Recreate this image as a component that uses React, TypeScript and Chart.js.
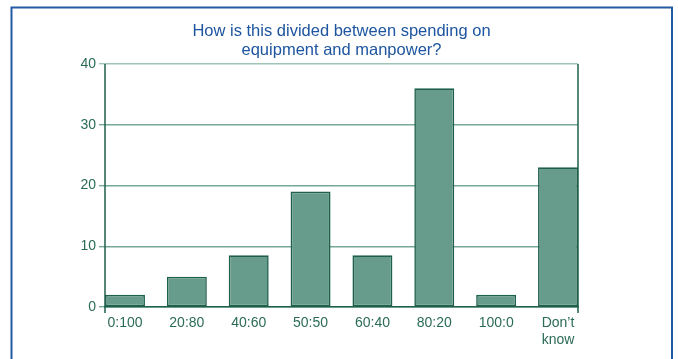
import { useEffect, useRef } from "react";
import { Chart, registerables } from "chart.js";

Chart.register(...registerables);

// Split between equipment and manpower spending (share of respondents)
const categories = ["0:100", "20:80", "40:60", "50:50", "60:40", "80:20", "100:0", "Don’t know"];
const shares = [2, 5, 8.5, 19, 8.5, 36, 2, 23];
const yTicks = [0, 10, 20, 30, 40];
const titleLines = ["How is this divided between spending on", "equipment and manpower?"];

const FONT = "'Liberation Sans', Arial, Helvetica, sans-serif";
const TEXT_GREEN = "#2a6b56";
const AXIS_GREEN = "#1f604c";
const GRID_GREEN = "#78a998";
const GRID_TOP = "#9fc5b8";
const BAR_FILL = "#679c8c";
const TITLE_BLUE = "#1d55a0";
const FRAME_BLUE = "#2459a3";

const BAR_FRACTION = 0.646;

const framePlugin = {
  id: "frameAndTitle",
  beforeDraw(chart: Chart) {
    const ctx = chart.ctx;
    ctx.save();
    ctx.fillStyle = "#ffffff";
    ctx.fillRect(0, 0, chart.width, chart.height);
    ctx.strokeStyle = FRAME_BLUE;
    ctx.lineWidth = 2;
    ctx.strokeRect(11.5, 7.5, 660.5, chart.height + 20);
    ctx.restore();
  },
  afterDraw(chart: Chart) {
    const ctx = chart.ctx;
    const { left, right, top, bottom } = chart.chartArea;
    ctx.save();
    // axis lines on both sides, running a little below the baseline
    ctx.strokeStyle = AXIS_GREEN;
    ctx.lineWidth = 1.5;
    ctx.beginPath();
    ctx.moveTo(left, top);
    ctx.lineTo(left, bottom + 6);
    ctx.moveTo(right, top);
    ctx.lineTo(right, bottom + 6);
    ctx.stroke();
    // title
    ctx.fillStyle = TITLE_BLUE;
    ctx.font = `16.5px ${FONT}`;
    ctx.textAlign = "center";
    ctx.textBaseline = "alphabetic";
    const cx = (left + right) / 2;
    titleLines.forEach((line, i) => {
      ctx.fillText(line, cx, 36 + i * 18.5);
    });
    ctx.restore();
  },
};

export default function App() {
  const canvasRef = useRef<HTMLCanvasElement | null>(null);

  useEffect(() => {
    document.body.style.margin = "0";
    const canvas = canvasRef.current;
    if (!canvas) return;

    const chart = new Chart(canvas, {
      type: "bar",
      data: {
        datasets: [
          {
            data: shares.map((v, i) => ({ x: i, y: v })),
            backgroundColor: BAR_FILL,
            borderColor: AXIS_GREEN,
            borderWidth: 1.6,
            borderSkipped: false,
            categoryPercentage: 1,
            barPercentage: BAR_FRACTION,
          },
        ],
      },
      options: {
        responsive: false,
        animation: false,
        layout: { padding: { left: 0, right: 100, top: 64, bottom: 0 } },
        plugins: {
          legend: { display: false },
          title: { display: false },
          tooltip: { enabled: false },
        },
        scales: {
          x: {
            type: "linear",
            offset: false,
            min: -BAR_FRACTION / 2,
            max: categories.length - 1 + BAR_FRACTION / 2,
            afterBuildTicks: (scale: any) => {
              scale.ticks = categories.map((_, i) => ({ value: i }));
            },
            afterFit: (scale: any) => {
              scale.height = 52;
            },
            grid: { display: false, offset: false },
            border: { display: true, color: AXIS_GREEN, width: 1.5 },
            ticks: {
              autoSkip: false,
              maxRotation: 0,
              padding: -1,
              color: TEXT_GREEN,
              font: { family: FONT, size: 14, lineHeight: 1.25 },
              callback: (value: any) => {
                const label = categories[Math.round(Number(value))] ?? "";
                return label.includes(" ") ? label.split(" ") : label;
              },
            },
          },
          y: {
            min: 0,
            max: 40,
            afterBuildTicks: (scale: any) => {
              scale.ticks = yTicks.map((v) => ({ value: v }));
            },
            afterFit: (scale: any) => {
              scale.width = 105;
            },
            border: { display: false },
            grid: {
              drawOnChartArea: true,
              drawTicks: true,
              tickLength: 6,
              lineWidth: 1.4,
              color: (c: any) => (c.tick && c.tick.value === 40 ? GRID_TOP : GRID_GREEN),
            },
            ticks: {
              padding: 3,
              color: TEXT_GREEN,
              font: { family: FONT, size: 14 },
            },
          },
        },
      },
      plugins: [framePlugin],
    });

    return () => chart.destroy();
  }, []);

  return (
    <div style={{ width: 678, height: 359 }}>
      <canvas ref={canvasRef} width={678} height={359} style={{ display: "block" }} />
    </div>
  );
}
